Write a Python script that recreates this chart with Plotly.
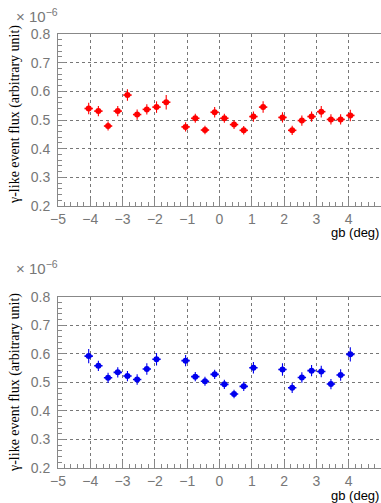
import plotly.graph_objects as go

# ---- data ----
x_top = [-4.05, -3.75, -3.45, -3.15, -2.85, -2.55, -2.25, -1.95, -1.65,
         -1.05, -0.75, -0.45, -0.15, 0.15, 0.45, 0.75, 1.05, 1.35,
         1.95, 2.25, 2.55, 2.85, 3.15, 3.45, 3.75, 4.05]
y_top = [0.540, 0.531, 0.479, 0.531, 0.587, 0.519, 0.537, 0.545, 0.562,
         0.476, 0.506, 0.465, 0.527, 0.506, 0.484, 0.464, 0.512, 0.545,
         0.509, 0.464, 0.498, 0.512, 0.529, 0.502, 0.502, 0.516]
ey_top = [0.020, 0.018, 0.016, 0.018, 0.020, 0.018, 0.018, 0.020, 0.025,
          0.016, 0.016, 0.015, 0.018, 0.016, 0.015, 0.015, 0.018, 0.020,
          0.018, 0.016, 0.018, 0.018, 0.020, 0.018, 0.018, 0.020]

x_bot = [-4.05, -3.75, -3.45, -3.15, -2.85, -2.55, -2.25, -1.95,
         -1.05, -0.75, -0.45, -0.15, 0.15, 0.45, 0.75, 1.05,
         1.95, 2.25, 2.55, 2.85, 3.15, 3.45, 3.75, 4.05]
y_bot = [0.592, 0.558, 0.516, 0.535, 0.522, 0.510, 0.547, 0.581,
         0.576, 0.520, 0.504, 0.528, 0.493, 0.459, 0.486, 0.551,
         0.545, 0.481, 0.517, 0.541, 0.538, 0.494, 0.526, 0.598]
ey_bot = [0.025, 0.018, 0.018, 0.018, 0.018, 0.018, 0.020, 0.022,
          0.020, 0.016, 0.016, 0.016, 0.016, 0.015, 0.016, 0.020,
          0.022, 0.018, 0.018, 0.020, 0.020, 0.018, 0.020, 0.025]

bin_half = 0.13
x_ticks = [-5, -4, -3, -2, -1, 0, 1, 2, 3, 4, 5]
y_ticks = [0.2, 0.3, 0.4, 0.5, 0.6, 0.7, 0.8]

W, H = 381, 503
L = 58

def py(p):
    return 1 - p / H

def px(p):
    return (p - L) / (W - L)

fig = go.Figure()

def add_series(xs, ys, eys, color, xa, ya):
    fig.add_trace(go.Scatter(
        x=xs, y=ys, mode="markers", xaxis=xa, yaxis=ya,
        marker=dict(symbol="circle", size=6, color=color),
        error_x=dict(type="constant", value=bin_half, color=color, thickness=1.6, width=0),
        error_y=dict(type="data", array=eys, color=color, thickness=1.1, width=0),
        showlegend=False,
    ))

add_series(x_top, y_top, ey_top, "#ff0000", "x", "y")
add_series(x_bot, y_bot, ey_bot, "#0000ee", "x2", "y2")

tickfont = dict(family="Liberation Sans, Arial, sans-serif", size=14, color="#777777")

xcommon = dict(
    range=[-5, 5], tickvals=x_ticks, ticks="inside", ticklen=8, tickcolor="#888888",
    showline=True, linecolor="#888888", linewidth=1, mirror=True,
    showgrid=True, gridcolor="#777777", griddash="dot", gridwidth=1,
    zeroline=False, tickfont=tickfont, automargin=False,
    minor=dict(dtick=0.2, ticks="inside", ticklen=4, tickcolor="#888888", showgrid=False),
)
ycommon = dict(
    range=[0.2, 0.8], tickvals=y_ticks, ticktext=[f"{v:.1f}" for v in y_ticks],
    ticks="inside", ticklen=8, tickcolor="#888888",
    showline=True, linecolor="#888888", linewidth=1, mirror=True,
    showgrid=True, gridcolor="#777777", griddash="dot", gridwidth=1,
    zeroline=False, tickfont=tickfont, ticklabelstandoff=4, automargin=False,
    minor=dict(dtick=0.02, ticks="inside", ticklen=4, tickcolor="#888888", showgrid=False),
)

fig.update_layout(
    width=W, height=H,
    margin=dict(l=L, r=0, t=0, b=0, autoexpand=False),
    paper_bgcolor="white", plot_bgcolor="white",
    xaxis=dict(domain=[0, 1], anchor="y", **xcommon),
    yaxis=dict(domain=[py(206), py(34)], anchor="x", **ycommon),
    xaxis2=dict(domain=[0, 1], anchor="y2", **xcommon),
    yaxis2=dict(domain=[py(468), py(296.7)], anchor="x2", **ycommon),
)

ann = []
for yc_title, yc_mult, yc_xlab in [(115, 16, 232), (383, 267, 495)]:
    ann.append(dict(xref="paper", yref="paper", x=px(15), y=py(yc_title),
                    text="γ-like event flux (arbitrary unit)", textangle=-90, showarrow=False,
                    xanchor="center", yanchor="middle",
                    font=dict(family="Liberation Serif, Times New Roman, serif", size=14, color="black")))
    ann.append(dict(xref="paper", yref="paper", x=px(14), y=py(yc_mult),
                    text="× 10<sup>−6</sup>", showarrow=False, xanchor="left", yanchor="middle",
                    font=dict(family="Liberation Sans, Arial, sans-serif", size=15, color="#777777")))
    ann.append(dict(xref="paper", yref="paper", x=px(381), y=py(yc_xlab),
                    text="gb (deg)", showarrow=False, xanchor="right", yanchor="middle",
                    font=dict(family="Liberation Sans, Arial, sans-serif", size=13, color="black")))
fig.update_layout(annotations=ann)

fig.write_html(
    "out.html",
    config={"displayModeBar": False},
    post_script="document.body.style.margin='0';document.body.style.overflow='hidden';",
)
